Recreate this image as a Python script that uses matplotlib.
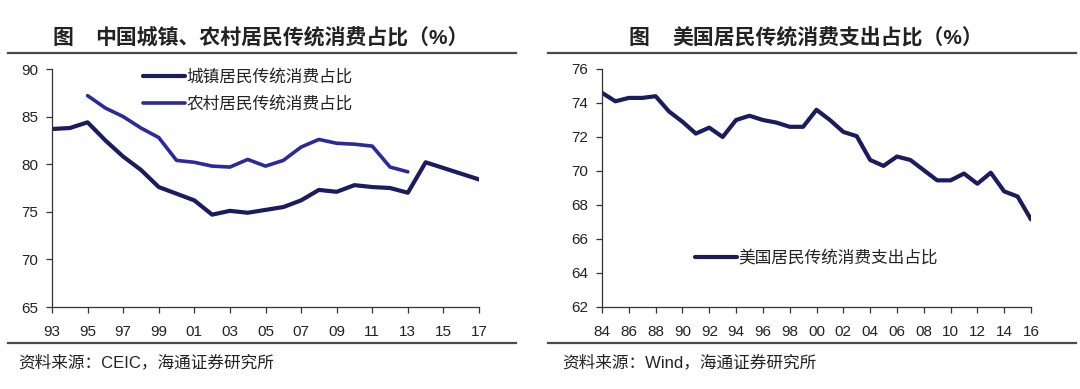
import matplotlib
matplotlib.use("Agg")
import matplotlib.pyplot as plt
from matplotlib.lines import Line2D

plt.rcParams['font.family'] = ['Liberation Sans', 'Noto Sans CJK SC', 'DejaVu Sans']

# China: share of traditional consumption (%)
cn_urban_years = list(range(1993, 2018))
cn_urban = [83.7, 83.8, 84.4, 82.5, 80.8, 79.4, 77.6, 76.9, 76.2, 74.7, 75.1, 74.9,
            75.2, 75.5, 76.2, 77.3, 77.1, 77.8, 77.6, 77.5, 77.0, 80.2, 79.6, 79.0, 78.4]
cn_rural_years = list(range(1995, 2014))
cn_rural = [87.2, 85.9, 85.0, 83.8, 82.8, 80.4, 80.2, 79.8, 79.7, 80.5, 79.8, 80.4,
            81.8, 82.6, 82.2, 82.1, 81.9, 79.7, 79.2]

# US: share of traditional consumption spending (%)
us_years = list(range(1984, 2017))
us_share = [74.6, 74.1, 74.3, 74.3, 74.4, 73.5, 72.9, 72.2, 72.55, 72.0, 73.0, 73.25,
            73.0, 72.85, 72.6, 72.6, 73.6, 73.0, 72.3, 72.05, 70.65, 70.3, 70.85, 70.65,
            70.05, 69.45, 69.45, 69.85, 69.25, 69.9, 68.8, 68.5, 67.15]

left_ticks = list(range(1993, 2018, 2))
right_ticks = list(range(1984, 2017, 2))

navy = '#1c1b5c'
blue = '#2b2a98'
txt = '#222222'

fig = plt.figure(figsize=(10.8, 3.89), dpi=100)
fig.patch.set_facecolor('white')

ax1 = fig.add_axes([52/1080, 1 - 307/389, 427/1080, 238/389])
ax2 = fig.add_axes([602/1080, 1 - 307/389, 429/1080, 238/389])

ax1.plot(cn_urban_years, cn_urban, color=navy, lw=3.0, solid_joinstyle='round',
         solid_capstyle='round', label='城镇居民传统消费占比')
ax1.plot(cn_rural_years, cn_rural, color=blue, lw=2.6, solid_joinstyle='round',
         solid_capstyle='round', label='农村居民传统消费占比')
ax1.set_xlim(1993, 2017)
ax1.set_ylim(65, 90)
ax1.set_yticks(range(65, 91, 5))
ax1.set_xticks(left_ticks)
ax1.set_xticklabels(['%02d' % (y % 100) for y in left_ticks])

ax2.plot(us_years, us_share, color=navy, lw=3.0, solid_joinstyle='round',
         solid_capstyle='round', label='美国居民传统消费支出占比')
ax2.set_xlim(1984, 2016)
ax2.set_ylim(62, 76)
ax2.set_yticks(range(62, 77, 2))
ax2.set_xticks(right_ticks)
ax2.set_xticklabels(['%02d' % (y % 100) for y in right_ticks])

for ax in (ax1, ax2):
    for s in ('top', 'right'):
        ax.spines[s].set_visible(False)
    for s in ('left', 'bottom'):
        ax.spines[s].set_color('#333333')
        ax.spines[s].set_linewidth(0.9)
    ax.tick_params(axis='both', direction='out', length=4, width=0.9, color='#333333',
                   labelsize=11, labelcolor=txt)
    ax.tick_params(axis='x', pad=9)
    ax.tick_params(axis='y', pad=6)
    ax.set_facecolor('white')

ax1.legend(loc='upper left', bbox_to_anchor=(0.213, 1.0), frameon=False, borderpad=0,
           borderaxespad=0, handlelength=2.5, handletextpad=0.1, labelspacing=0.65,
           prop={'size': 12}, labelcolor=txt)
ax2.legend(loc='center left', bbox_to_anchor=(0.217, 0.206), frameon=False, borderpad=0,
           borderaxespad=0, handlelength=2.5, handletextpad=0.1,
           prop={'size': 12}, labelcolor=txt)

# titles and rules
for fx, rest_x, rest in ((53, 95, '中国城镇、农村居民传统消费占比（%）'),
                         (628, 672, '美国居民传统消费支出占比（%）')):
    fig.text(fx/1080, 1 - 38/389, '图', ha='left', va='center',
             fontsize=15, fontweight='bold', color=txt)
    fig.text(rest_x/1080, 1 - 38/389, rest, ha='left', va='center',
             fontsize=15, fontweight='bold', color=txt)
for x0, x1 in ((8, 516), (548, 1076)):
    for yy in (53, 343):
        fig.add_artist(Line2D([x0/1080, x1/1080], [1 - yy/389, 1 - yy/389],
                              color='#4a4a4a', lw=1.6))

fig.text(18/1080, 1 - 362/389, '资料来源：CEIC，海通证券研究所', ha='left', va='center',
         fontsize=12, color=txt)
fig.text(562/1080, 1 - 362/389, '资料来源：Wind，海通证券研究所', ha='left', va='center',
         fontsize=12, color=txt)

fig.savefig('out.png', dpi=100, facecolor='white')
